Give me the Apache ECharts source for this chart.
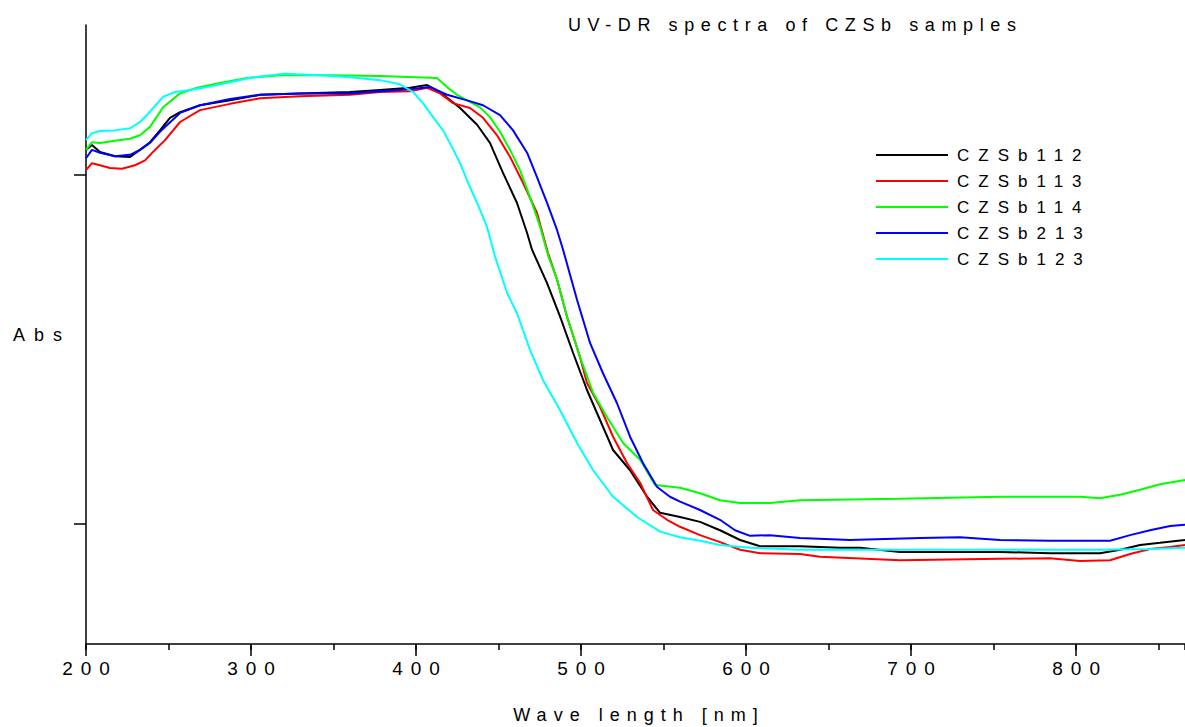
<!DOCTYPE html>
<html>
<head>
<meta charset="utf-8">
<title>UV-DR spectra of CZSb samples</title>
<script src="https://cdn.jsdelivr.net/npm/echarts@6/dist/echarts.min.js"></script>
<style>
html,body{margin:0;padding:0;background:#ffffff;}
#main{width:1185px;height:727px;}
</style>
</head>
<body>
<div id="main"></div>
<script>
// ---- data (wavelength nm, absorbance a.u.) ----
const seriesNames = ['CZSb112', 'CZSb113', 'CZSb114', 'CZSb213', 'CZSb123'];
const seriesColors = ['#000000', '#ff0000', '#00ff00', '#0000ff', '#00ffff'];
const wavelengthTicks = [200, 300, 400, 500, 600, 700, 800];
const absTicks = [0.5, 1.0];

const czsb112 = [[200,1.036],[203.6,1.043],[208.5,1.033],[217.6,1.027],[226.7,1.026],[232.7,1.036],[238.8,1.047],[244.8,1.064],[250.9,1.082],[257,1.090],[269.1,1.100],[287.3,1.107],[305.5,1.115],[329.7,1.117],[360,1.119],[378.2,1.122],[396.4,1.125],[406.7,1.129],[414.5,1.119],[426.7,1.096],[437,1.072],[444.8,1.046],[452.7,1.003],[461.2,0.960],[467.3,0.917],[470.3,0.893],[479.4,0.845],[487.3,0.797],[495.2,0.745],[503.6,0.692],[511.5,0.649],[519.4,0.606],[529.7,0.577],[540,0.539],[547.9,0.516],[560,0.510],[572.1,0.503],[584.2,0.491],[596.4,0.477],[608.5,0.468],[632.7,0.468],[657,0.466],[669,0.466],[693.3,0.460],[753.9,0.460],[784.2,0.458],[814.5,0.458],[826.7,0.463],[838.8,0.470],[850.9,0.473],[866,0.477]];

const czsb113 = [[200,1.007],[203.6,1.017],[208.5,1.014],[214.5,1.010],[221.8,1.009],[229.7,1.014],[235.8,1.021],[241.8,1.036],[247.9,1.050],[257,1.076],[269.1,1.093],[287.3,1.102],[305.5,1.110],[329.7,1.113],[360,1.115],[378.2,1.119],[396.4,1.120],[406.7,1.125],[414.5,1.117],[422.4,1.103],[432.7,1.096],[440.6,1.082],[449.1,1.057],[457,1.026],[464.8,0.989],[473.3,0.946],[480,0.888],[485.5,0.850],[491.5,0.797],[499.4,0.739],[503.6,0.702],[511.5,0.668],[519.4,0.625],[527.9,0.587],[535.8,0.559],[543.6,0.520],[552.1,0.506],[560,0.496],[572.1,0.484],[584.2,0.474],[596.4,0.463],[608.5,0.458],[632.7,0.457],[644.8,0.453],[693.3,0.448],[753.9,0.450],[784.2,0.451],[802.4,0.447],[820.6,0.448],[832.7,0.457],[844.8,0.464],[857,0.467],[866,0.470]];

const czsb114 = [[200,1.036],[203.6,1.047],[208.5,1.046],[217.6,1.049],[226.7,1.052],[232.7,1.057],[238.8,1.069],[246.7,1.097],[257,1.117],[267.3,1.125],[281.2,1.132],[297.6,1.139],[317.6,1.143],[347.9,1.143],[378.2,1.142],[412.7,1.139],[418.8,1.126],[424.8,1.115],[432.7,1.105],[438.8,1.097],[444.8,1.083],[450.9,1.062],[457,1.036],[463,1.007],[469.1,0.968],[475.2,0.926],[480,0.885],[485.5,0.850],[491.5,0.797],[499.4,0.739],[507.3,0.688],[515.8,0.653],[525.5,0.616],[535.8,0.592],[544.8,0.556],[560,0.552],[572.1,0.544],[584.2,0.534],[596.4,0.530],[614.5,0.530],[632.7,0.534],[693.3,0.536],[753.9,0.539],[802.4,0.539],[814.5,0.537],[826.7,0.542],[838.8,0.549],[850.9,0.557],[866,0.563]];

const czsb213 = [[200,1.024],[203.6,1.036],[208.5,1.032],[217.6,1.027],[226.7,1.029],[232.7,1.036],[238.8,1.046],[244.8,1.062],[257,1.089],[269.1,1.100],[287.3,1.109],[305.5,1.115],[329.7,1.117],[360,1.117],[378.2,1.120],[396.4,1.123],[408.5,1.126],[418.8,1.115],[430.9,1.107],[440.6,1.100],[450.9,1.086],[458.8,1.064],[467.3,1.032],[473.3,0.997],[479.4,0.960],[485.5,0.921],[489.1,0.893],[497.6,0.821],[505.5,0.759],[513.3,0.716],[521.8,0.673],[529.7,0.625],[537.6,0.587],[546.1,0.553],[553.9,0.539],[560,0.532],[572.1,0.520],[584.2,0.506],[593.3,0.491],[602.4,0.483],[614.5,0.484],[632.7,0.480],[663,0.477],[705.5,0.480],[729.7,0.481],[753.9,0.477],[784.2,0.476],[820.6,0.476],[832.7,0.484],[844.8,0.491],[857,0.497],[866,0.499]];

const czsb123 = [[200,1.050],[203.6,1.060],[208.5,1.063],[217.6,1.064],[226.7,1.067],[232.7,1.076],[237,1.086],[246.7,1.112],[253.9,1.119],[263,1.122],[273.3,1.126],[287.3,1.133],[301.2,1.140],[320,1.145],[341.8,1.143],[360,1.140],[378.2,1.136],[390.3,1.130],[398.2,1.119],[404.2,1.103],[410.3,1.083],[416.4,1.064],[421.8,1.040],[426.7,1.017],[431.5,0.989],[437,0.960],[443,0.926],[447.9,0.883],[455.2,0.831],[461.2,0.802],[469.1,0.749],[477,0.706],[487.3,0.663],[497.6,0.616],[507.3,0.577],[519.4,0.539],[533.9,0.510],[547.9,0.489],[560,0.481],[572.1,0.476],[584.2,0.470],[602.4,0.466],[632.7,0.463],[693.3,0.463],[753.9,0.463],[814.5,0.463],[844.8,0.464],[866,0.466]];

const seriesData = [czsb112, czsb113, czsb114, czsb213, czsb123];

const xMin = 200, xMax = 866, xMinorStep = 50;
const yMin = 0.328, yMax = 1.215;

// ---- chart ----
const FONT = '"Liberation Sans", Arial, sans-serif';
const chart = echarts.init(document.getElementById('main'), null, {renderer: 'svg', width: 1185, height: 727});

const gridBox = {left: 86, right: 0, top: 25, bottom: 83, containLabel: false, outerBoundsMode: 'none'};

const option = {
  animation: false,
  backgroundColor: '#ffffff',
  title: {
    text: 'UV-DR spectra of CZSb samples',
    left: 568, top: 16, padding: 0,
    textStyle: {fontFamily: FONT, fontSize: 18, fontWeight: 'normal', color: '#000'}
  },
  legend: {
    orient: 'vertical', left: 876, top: 146, padding: 0,
    itemWidth: 72, itemHeight: 2, itemGap: 8, icon: 'rect',
    data: seriesNames,
    textStyle: {fontFamily: FONT, fontSize: 17, lineHeight: 18, color: '#000', padding: [0, 0, 0, 4]}
  },
  grid: [Object.assign({}, gridBox), Object.assign({}, gridBox)],
  xAxis: [{
    type: 'value', gridIndex: 0, min: xMin, max: xMax, interval: 100,
    axisLine: {show: true, lineStyle: {color: '#000', width: 1.5}},
    axisTick: {show: true, length: 12, lineStyle: {color: '#000', width: 1.5}},
    axisLabel: {show: true, fontFamily: FONT, fontSize: 19, color: '#000', margin: 15,
      showMaxLabel: false, padding: [0, 0, 0, 8],
      formatter: function (v) { return wavelengthTicks.indexOf(v) >= 0 ? String(v) : ''; }},
    splitLine: {show: false},
    name: 'Wave length [nm]', nameLocation: 'middle', nameGap: 62,
    nameTextStyle: {fontFamily: FONT, fontSize: 18, color: '#000', padding: [0, 0, 0, 7]}
  }, {
    type: 'value', gridIndex: 1, min: xMin, max: xMax, interval: xMinorStep,
    axisLine: {show: false},
    axisTick: {show: true, length: 6, lineStyle: {color: '#000', width: 1.5}},
    axisLabel: {show: false},
    splitLine: {show: false}
  }],
  yAxis: [{
    type: 'value', gridIndex: 0, min: yMin, max: yMax,
    axisLine: {show: true, lineStyle: {color: '#000', width: 1.5}},
    axisTick: {show: true, length: 12, customValues: absTicks, lineStyle: {color: '#000', width: 1.5}},
    axisLabel: {show: false, customValues: absTicks},
    splitLine: {show: false},
    name: 'Abs', nameLocation: 'middle', nameRotate: 0, nameGap: 15,
    nameTextStyle: {fontFamily: FONT, fontSize: 18, color: '#000', padding: [0, 0, 6, 0]}
  }, {
    type: 'value', gridIndex: 1, min: yMin, max: yMax, show: false
  }],
  series: seriesNames.map(function (name, i) {
    return {
      name: name, type: 'line', xAxisIndex: 0, yAxisIndex: 0,
      data: seriesData[i], symbol: 'none', showSymbol: false,
      color: seriesColors[i],
      lineStyle: {color: seriesColors[i], width: 2},
      emphasis: {disabled: true}
    };
  })
};
chart.setOption(option);

function applySpacing() {
  document.querySelectorAll('#main svg text').forEach(function (t) {
    const s = (t.textContent || '').trim();
    let sp = '7px';
    if (/^\d+$/.test(s)) sp = '8px';
    else if (/^CZSb/.test(s)) sp = '9px';
    else if (s === 'Abs') sp = '9px';
    else if (/^UV-DR/.test(s)) sp = '6.6px';
    t.setAttribute('letter-spacing', sp);
  });
}
applySpacing();
chart.on('finished', applySpacing);
</script>
</body>
</html>
